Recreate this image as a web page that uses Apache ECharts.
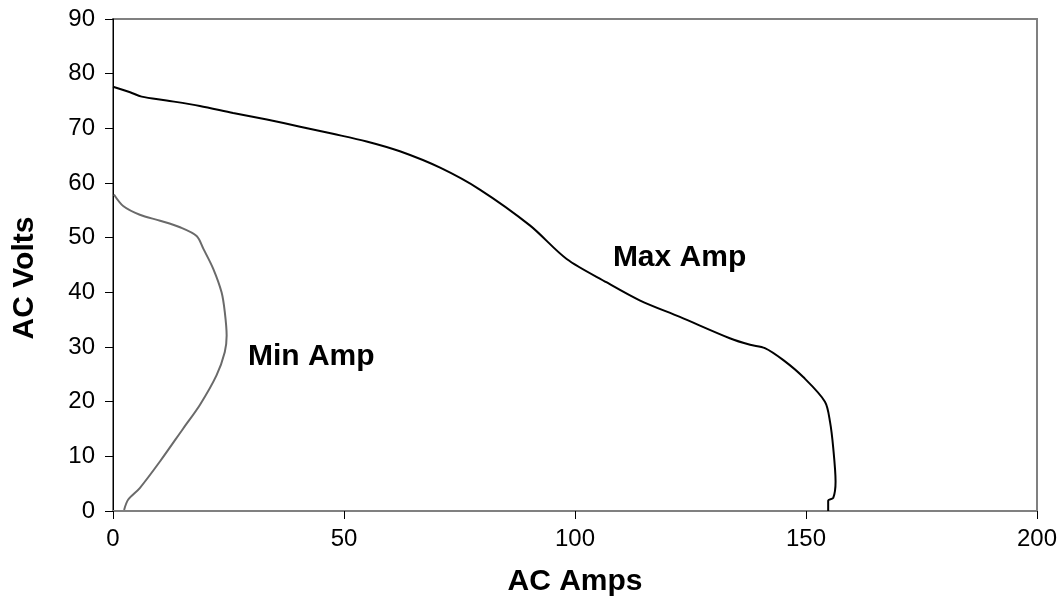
<!DOCTYPE html>
<html>
<head>
<meta charset="utf-8">
<script src="https://cdn.jsdelivr.net/npm/echarts@6/dist/echarts.min.js"></script>
<style>
  html, body { margin: 0; padding: 0; background: #fff; }
  #main { width: 1063px; height: 602px; }
</style>
</head>
<body>
<div id="main"></div>
<script>
// Max Amp curve [amps, volts]
var maxAmp = [
  [0, 77.6], [3.7, 76.6], [6.2, 75.8], [11.6, 75.1], [18.8, 74.1], [26, 72.8],
  [33.3, 71.6], [40.5, 70.3], [47.6, 69.0], [54.9, 67.6], [62.1, 65.8],
  [70.8, 62.8], [79.4, 58.8], [90.3, 52.2], [98.2, 46.1], [106.9, 41.8],
  [114.1, 38.5], [122.7, 35.5], [133.5, 31.6], [137.9, 30.4], [141.1, 29.8],
  [145.1, 27.6], [149.4, 24.5], [154.1, 20.0], [155.2, 16.3], [155.9, 11.5],
  [156.4, 5.4], [155.9, 2.4], [154.8, 1.9], [154.8, 0]
];
// Min Amp curve [amps, volts]
var minAmp = [
  [0.2, 57.9], [2.2, 55.8], [5.8, 54.2], [10.2, 53.1], [14.5, 51.9], [18.1, 50.3],
  [19.6, 47.9], [21.7, 44.3], [23.5, 40.0], [24.2, 36.4], [24.6, 32.1], [24.2, 29.1],
  [22.4, 24.8], [18.8, 19.4], [15.2, 15.1], [10.2, 9.1], [5.8, 4.2], [3.3, 2.1], [2.4, 0.2]
];
// label anchors [amps, volts]
var maxLabelAt = [108.2, 46.4];
var minLabelAt = [29.2, 28.2];

var chart = echarts.init(document.getElementById('main'));
var option = {
  animation: false,
  grid: {
    left: 113, right: 26, top: 19, bottom: 89,
    show: true, borderColor: '#808080', borderWidth: 2
  },
  xAxis: {
    type: 'value', min: 0, max: 200, interval: 50,
    name: 'AC Amps', nameLocation: 'middle', nameGap: 56,
    nameTextStyle: { fontFamily: 'Liberation Sans', fontWeight: 'bold', fontSize: 30, color: '#000' },
    axisLine: { show: true, lineStyle: { color: '#808080', width: 2 } },
    axisTick: { show: true, length: 8, lineStyle: { color: '#000' } },
    axisLabel: { fontFamily: 'Liberation Sans', fontSize: 24, color: '#000', margin: 16 },
    splitLine: { show: false }
  },
  yAxis: {
    type: 'value', min: 0, max: 90, interval: 10,
    name: 'AC Volts', nameLocation: 'middle', nameGap: 73, nameRotate: 90,
    nameTextStyle: { fontFamily: 'Liberation Sans', fontWeight: 'bold', fontSize: 30, color: '#000',
      padding: [0, 26, 0, 0] },
    axisLine: { show: true, lineStyle: { color: '#000', width: 1 } },
    axisTick: { show: true, length: 8, lineStyle: { color: '#000' } },
    axisLabel: { fontFamily: 'Liberation Sans', fontSize: 24, color: '#000', margin: 18 },
    splitLine: { show: false }
  },
  series: [
    {
      name: 'Max Amp', type: 'line', data: maxAmp, smooth: 0.3, showSymbol: false,
      lineStyle: { color: '#000', width: 2 }
    },
    {
      name: 'Min Amp', type: 'line', data: minAmp, smooth: 0.3, showSymbol: false,
      lineStyle: { color: '#6a6a6a', width: 2 }
    }
  ]
};
chart.setOption(option);

var pMax = chart.convertToPixel({ gridIndex: 0 }, maxLabelAt);
var pMin = chart.convertToPixel({ gridIndex: 0 }, minLabelAt);
chart.setOption({
  graphic: [
    { type: 'text', x: pMax[0], y: pMax[1],
      style: { text: 'Max Amp', font: 'bold 30px "Liberation Sans"', fill: '#000', verticalAlign: 'middle' } },
    { type: 'text', x: pMin[0], y: pMin[1],
      style: { text: 'Min Amp', font: 'bold 30px "Liberation Sans"', fill: '#000', verticalAlign: 'middle' } }
  ]
});
</script>
</body>
</html>
